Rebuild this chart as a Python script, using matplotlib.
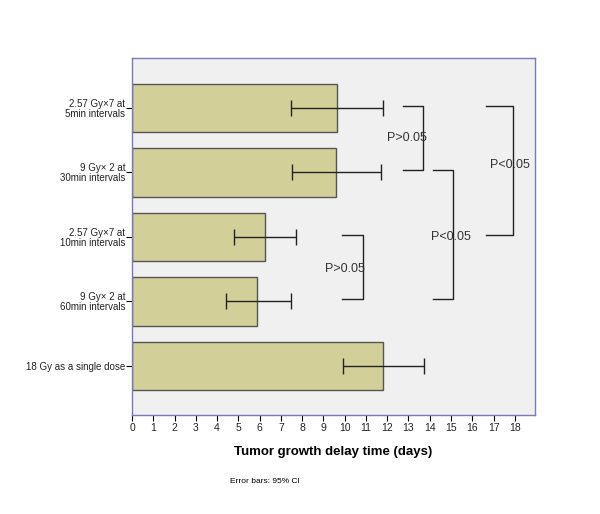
import matplotlib.pyplot as plt

plt.rcParams['font.family'] = ['Liberation Sans', 'DejaVu Sans']

groups = ['2.57 Gy\u00d77 at\n5min intervals',
          '9 Gy\u00d7 2 at\n30min intervals',
          '2.57 Gy\u00d77 at\n10min intervals',
          '9 Gy\u00d7 2 at\n60min intervals',
          '18 Gy as a single dose']
delay = [9.62, 9.59, 6.25, 5.9, 11.82]
ci_low = [7.47, 7.52, 4.81, 4.42, 9.9]
ci_high = [11.78, 11.69, 7.71, 7.46, 13.75]

# brackets: (first bar, second bar, x left, x right, label, label x, label y)
brackets = [(0, 1, 12.75, 13.7, 'P>0.05', 11.97, 0.47),
            (2, 3, 9.88, 10.85, 'P>0.05', 9.07, 2.5),
            (1, 3, 14.16, 15.1, 'P<0.05', 14.08, 2.0),
            (0, 2, 16.64, 17.9, 'P<0.05', 16.85, 0.88)]

fig = plt.figure(figsize=(6, 5.14), dpi=100)
ax = fig.add_axes([0.22, 0.1926, 0.6717, 0.694])
ax.set_facecolor('#f0f0f0')

pos = list(range(len(groups)))
ax.barh(pos, delay, height=0.75, color='#d3cf99', edgecolor='#555555', linewidth=1)
err = [[d - l for d, l in zip(delay, ci_low)], [h - d for d, h in zip(delay, ci_high)]]
ax.errorbar(delay, pos, xerr=err, fmt='none', ecolor='#222222', elinewidth=1,
            capsize=6, capthick=1)

for a, b, x0, x1, lab, tx, ty in brackets:
    ya, yb = a - 0.035, b - 0.035
    ax.plot([x0, x1, x1, x0], [ya, ya, yb, yb], color='#222222', lw=1)
    ax.text(tx, ty, lab, fontsize=9, color='#333333', ha='left', va='center')

ax.set_xlim(0, 18.95)
ax.set_ylim(4.76, -0.77)
ax.set_xticks(range(0, 19))
ax.set_yticks(pos)
ax.set_yticklabels(groups, fontsize=7, linespacing=0.95, color='#222222')
ax.tick_params(axis='x', labelsize=7.5, length=4, direction='out', pad=2, labelcolor='#222222')
ax.tick_params(axis='y', length=4, direction='out', pad=1)
for s in ax.spines.values():
    s.set_color('#7a7ab8')
    s.set_linewidth(1)

ax.set_xlabel('Tumor growth delay time (days)', fontsize=9.5, fontweight='bold', labelpad=9)
fig.text(0.383, 0.064, 'Error bars: 95% CI', fontsize=6, ha='left', va='center')

fig.savefig('out.png', dpi=100)
